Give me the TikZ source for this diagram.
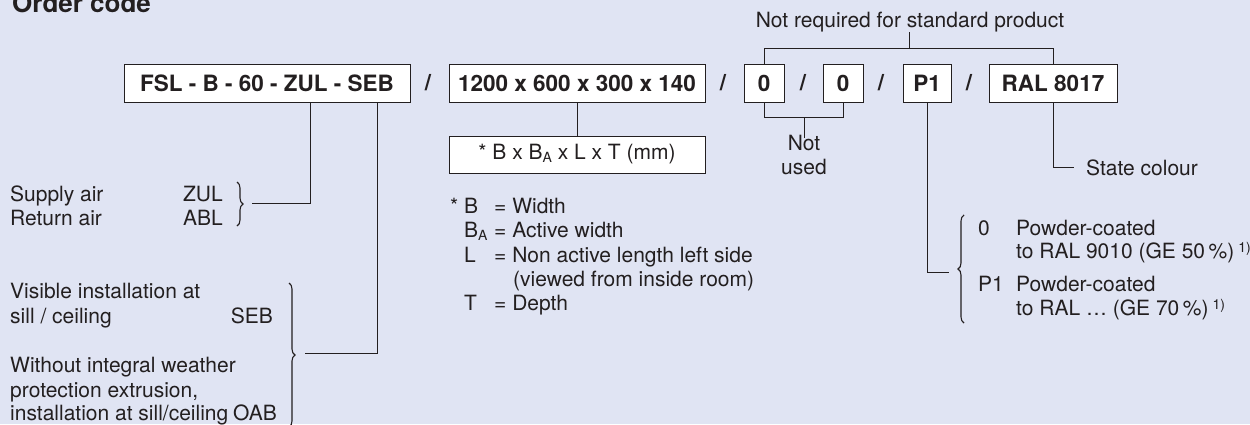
\documentclass[tikz,border=0pt]{standalone}
\usepackage{fontspec}
\setmainfont{TeX Gyre Heros}
\usetikzlibrary{decorations.pathreplacing,calc}
\definecolor{bg}{RGB}{224,228,243}
\definecolor{ink}{RGB}{35,31,32}
\newcommand{\subA}{\raisebox{-3pt}{\fontsize{14}{14}\selectfont A}}
\newcommand{\fnote}{\raisebox{5.5pt}{\fontsize{14}{14}\selectfont 1)}}
\begin{document}
\begin{tikzpicture}[x=1pt,y=-1pt,
 every node/.style={text=ink, inner sep=0pt, font=\fontsize{21}{24}\selectfont},
 codebox/.style={draw=ink, fill=white, line width=1pt, minimum height=38pt, font=\fontsize{22.5}{24}\selectfont\bfseries},
 slash/.style={font=\fontsize{22.5}{24}\selectfont\bfseries},
 txt/.style={anchor=base west},
 txte/.style={anchor=base east},
 conn/.style={draw=ink, line width=1pt},
 brc/.style={draw=ink, line width=1.1pt, decorate, decoration={brace, amplitude=6pt}}
]
\fill[bg] (0,0) rectangle (1250,424);
\useasboundingbox (0,0) rectangle (1250,424);

% title
\node[txt, font=\fontsize{26}{28}\selectfont\bfseries] (title) at (12,12) {Order code};

% code boxes
\node[codebox, minimum width=286pt] (b1) at (267,83) {FSL - B - 60 - ZUL - SEB};
\node[slash] (s1) at (428,83) {/};
\node[codebox, minimum width=256pt] (b2) at (577,83) {1200 x 600 x 300 x 140};
\node[slash] (s2) at (723,83) {/};
\node[codebox, minimum width=40pt] (b3) at (764,83) {0};
\node[slash] (s3) at (803,83) {/};
\node[codebox, minimum width=40pt] (b4) at (843,83) {0};
\node[slash] (s4) at (881,83) {/};
\node[codebox, minimum width=48pt] (b5) at (927,83) {P1};
\node[slash] (s5) at (969,83) {/};
\node[codebox, minimum width=128pt] (b6) at (1053,83) {RAL 8017};

\node[codebox, minimum width=256pt, minimum height=37pt, font=\fontsize{21}{24}\selectfont] (b7) at (577,154.5) {* B x B\subA{} x L x T (mm)};

% top note
\node[anchor=base] (nr) at (910,27) {Not required for standard product};
\coordinate (topbar) at (909,49);
\draw[conn] (b3.north) -- ++(0,-15) -| (b6.north);
\draw[conn] (topbar) -- (topbar |- nr.south);

% not used
\node[anchor=north, align=center, inner sep=0pt] (nu) at (804,135) {Not\\used};
\coordinate (botbar) at (804,117);
\draw[conn] (b3.south) -- ++(0,15) -| (b4.south);
\draw[conn] (botbar) -- ([yshift=-3pt]nu.north);

% left: ZUL / ABL
\node[txt] (sa) at (10,201) {Supply air};
\node[txte] (zul) at (223,201) {ZUL};
\node[txt] (ra) at (10,225) {Return air};
\node[txte] (abl) at (223,225) {ABL};
\draw[brc] (237,182) -- (237,226);
\coordinate (zulE) at (252,203);
\draw[conn] ($(b1.south west)+(187,0)$) |- (zulE);

% left: SEB / OAB
\node[txt] (v1) at (10,298) {Visible installation at};
\node[txt] (v2) at (10,323) {sill / ceiling};
\node[txte] (seb) at (273,323) {SEB};
\node[txt] (w1) at (10,372) {Without integral weather};
\node[txt] (w2) at (10,397) {protection extrusion,};
\node[txt] (w3) at (10,420) {installation at sill/ceiling};
\node[txte] (oab) at (277,420) {OAB};
\draw[brc] (289,283) -- (289,427);
\coordinate (sebE) at (305,353);
\draw[conn] ($(b1.south west)+(254,0)$) |- (sebE);

% dimension box link
\draw[conn] (b2.south) -- (b7.north);

% legend
\node[txt] (st) at (450,213) {*};
\node[txt] (lb) at (464,213) {B};
\node[txt] (lbd) at (494,213) {= Width};
\node[txt] (lba) at (464,237) {B\subA};
\node[txt] (lbad) at (494,237) {= Active width};
\node[txt] (ll) at (464,262) {L};
\node[txt] (lld) at (494,262) {= Non active length left side};
\node[txt] (lld2) at (513,286) {(viewed from inside room)};
\node[txt] (lt) at (464,310) {T};
\node[txt] (ltd) at (494,310) {= Depth};

% state colour
\node[txt] (sc) at (1086,175) {State colour};
\draw[conn] (b6.south) |- ([xshift=-12pt]sc.west);

% powder coating
\draw[brc] (964,323) -- (964,215);
\coordinate (p1E) at (949,272);
\draw[conn] (b5.south) |- (p1E);
\node[txt] (o0) at (978,235) {0};
\node[txt] (o0a) at (1016,235) {Powder-coated};
\node[txt] (o0b) at (1016,258) {to RAL 9010 (GE 50\,\%)\hspace{4pt}\fnote};
\node[txt] (o1) at (978,291) {P1};
\node[txt] (o1a) at (1016,291) {Powder-coated};
\node[txt] (o1b) at (1016,315) {to RAL … (GE 70\,\%)\hspace{4pt}\fnote};
\end{tikzpicture}
\end{document}
